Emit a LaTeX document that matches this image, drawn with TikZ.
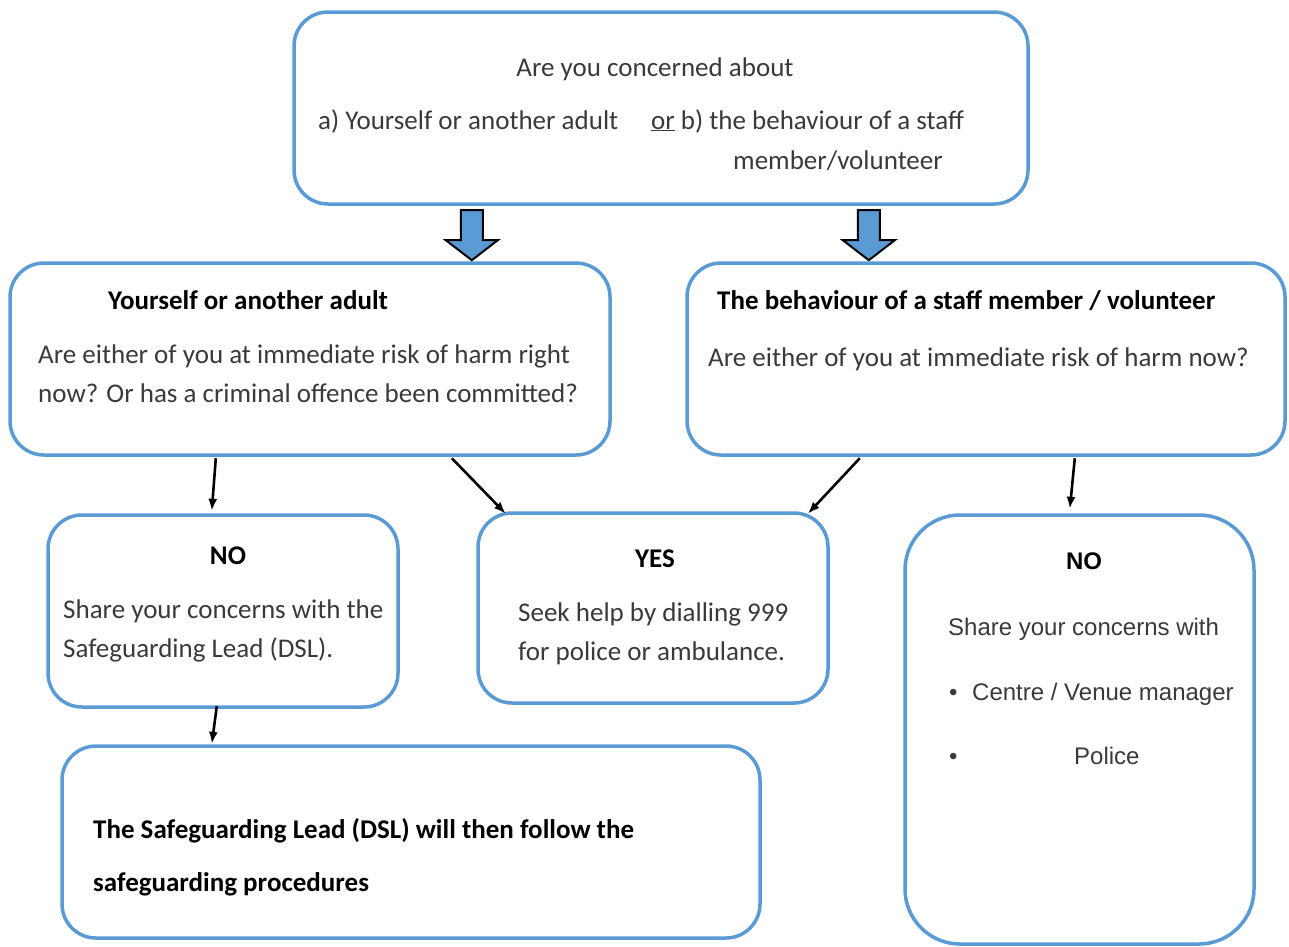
\documentclass[tikz,border=0pt]{standalone}
\usepackage{fontspec}
\setmainfont{Carlito}
\newfontfamily\arialf{Liberation Sans}
\usetikzlibrary{calc,arrows.meta}
\definecolor{boxblue}{HTML}{5B9BD5}
\definecolor{txtgray}{HTML}{3A3A3A}
\tikzset{
  box/.style={draw=boxblue, line width=3.5pt, rounded corners=34pt, fill=white},
  txt/.style={inner sep=0pt, anchor=west, text height=21pt, text depth=3pt, font=\fontsize{27}{32}\selectfont, text=txtgray},
  ctxt/.style={txt, anchor=center},
  btxt/.style={txt, font=\fontsize{27}{32}\selectfont\bfseries, text=black},
  atxt/.style={txt, font=\fontsize{24}{28}\selectfont\arialf, text=txtgray},
  arr/.style={-{Latex[length=12pt,width=9pt]}, line width=2.6pt, black},
  blockarr/.style={draw=black, line width=2pt, fill=boxblue, line join=miter},
}
\begin{document}
\begin{tikzpicture}[x=1pt,y=-1pt]
\useasboundingbox (0,0) rectangle (1289,946);

% boxes
\draw[box] (294,12) rectangle (1028,204);
\node[inner sep=0, minimum width=734pt, minimum height=192pt] (top) at (661,108) {};
\draw[box] (10,263) rectangle (610,455);
\node[inner sep=0, minimum width=600pt, minimum height=192pt] (L1) at (310,359) {};
\draw[box] (687,263) rectangle (1285,455);
\node[inner sep=0, minimum width=598pt, minimum height=192pt] (R1) at (986,359) {};
\draw[box] (48,515) rectangle (398,707);
\node[inner sep=0, minimum width=350pt, minimum height=192pt] (NOL) at (223,611) {};
\draw[box] (478,513) rectangle (828,703);
\node[inner sep=0, minimum width=350pt, minimum height=190pt] (YES) at (653,608) {};
\draw[box, rounded corners=55pt] (905,515) rectangle (1254,944);
\node[inner sep=0, minimum width=349pt, minimum height=429pt] (NOR) at (1079.5,729.5) {};
\draw[box] (62,746) rectangle (760,938);
\node[inner sep=0, minimum width=698pt, minimum height=192pt] (BOT) at (411,842) {};

% top texts
\node[ctxt] (t1) at (655,67) {Are you concerned about};
\node[txt] (t2) at (318,120) {a) Yourself or another adult};
\node[txt] (t3) at (651,120) {\underline{or} b) the behaviour of a staff};
\node[txt] (t4) at (733,160) {member/volunteer};

% L1 texts
\node[btxt] (l1a) at (108,300) {Yourself or another adult};
\node[txt] (l1b) at (38,354) {Are either of you at immediate risk of harm right};
\node[txt] (l1c) at (38,393) {now? Or has a criminal offence been committed?};

% R1 texts
\node[btxt] (r1a) at (717,300) {The behaviour of a staff member / volunteer};
\node[txt] (r1b) at (708,357) {Are either of you at immediate risk of harm now?};

% NO left
\node[btxt, anchor=center] (nola) at (228,555) {NO};
\node[txt] (nolb) at (63,609) {Share your concerns with the};
\node[txt] (nolc) at (63,648) {Safeguarding Lead (DSL).};

% YES
\node[btxt, anchor=center] (yesa) at (655,558) {YES};
\node[txt] (yesb) at (518,612) {Seek help by dialling 999};
\node[txt] (yesc) at (518,651) {for police or ambulance.};

% bottom
\node[btxt] (bota) at (93,829) {The Safeguarding Lead (DSL) will then follow the};
\node[btxt] (botb) at (93,882) {safeguarding procedures};

% NO right
\node[atxt, anchor=center, font=\fontsize{24}{28}\selectfont\arialf\bfseries, text=black] (nora) at (1084,560) {NO};
\node[atxt] (norb) at (948,626) {Share your concerns with};
\node[atxt] (norc1) at (949,691) {\textbullet};
\node[atxt] (norc) at (972,691) {Centre / Venue manager};
\node[atxt] (nord1) at (949,755) {\textbullet};
\node[atxt] (nord) at (1074,755) {Police};

% block arrows
\draw[blockarr] ($(top.south west)+(167,6)$) -- ++(22,0) -- ++(0,30) -- ++(15,0) -- ++(-26,20) -- ++(-26,-20) -- ++(15,0) -- cycle;
\draw[blockarr] ($(top.south west)+(564,6)$) -- ++(22,0) -- ++(0,30) -- ++(15,0) -- ++(-26,20) -- ++(-26,-20) -- ++(15,0) -- cycle;

% connectors
\draw[arr] ($(L1.south west)+(206,3)$) -- ($(NOL.north west)+(164,-4)$);
\draw[arr] ($(L1.south west)+(442,3)$) -- ($(YES.north west)+(28,1)$);
\draw[arr] ($(R1.south west)+(173,3)$) -- ($(YES.north west)+(330,1)$);
\draw[arr] ($(R1.south west)+(388,3)$) -- ($(NOR.north west)+(165,-6)$);
\draw[arr] ($(NOL.south west)+(169,-1)$) -- ($(BOT.north west)+(150,-2)$);
\end{tikzpicture}
\end{document}
